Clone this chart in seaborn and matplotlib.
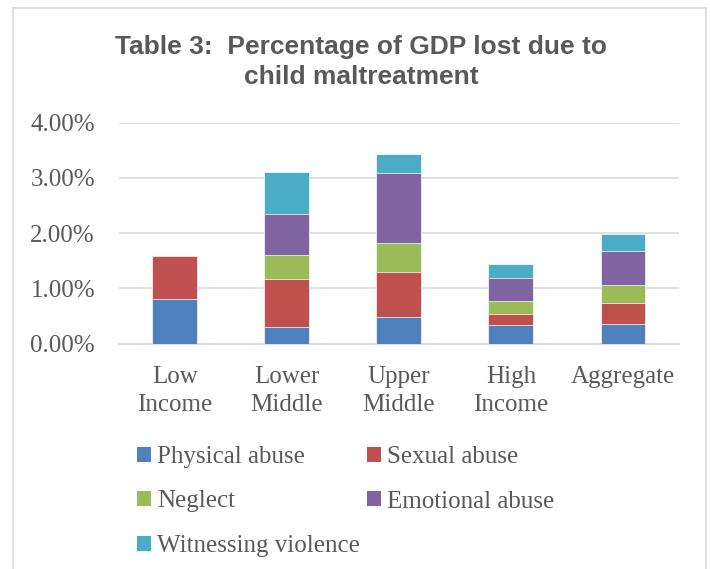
import numpy as np
import pandas as pd
import matplotlib
matplotlib.use("Agg")
import matplotlib.pyplot as plt
import seaborn as sns
from matplotlib.patches import Patch, Rectangle

# Data (percent of GDP)
categories = ["Low\nIncome", "Lower\nMiddle", "Upper\nMiddle", "High\nIncome", "Aggregate"]
series = ["Physical abuse", "Sexual abuse", "Neglect", "Emotional abuse", "Witnessing violence"]
physical = [0.81, 0.30, 0.48, 0.33, 0.36]
sexual = [0.78, 0.87, 0.82, 0.21, 0.38]
neglect = [0.00, 0.44, 0.52, 0.23, 0.32]
emotional = [0.00, 0.74, 1.26, 0.42, 0.62]
witnessing = [0.00, 0.76, 0.36, 0.25, 0.30]
colors = ["#4F81BD", "#C0504D", "#9BBB59", "#8064A2", "#4BACC6"]

sns.set_style("white")
plt.rcParams["font.family"] = ["Liberation Serif", "DejaVu Serif"]

df = pd.DataFrame(dict(zip(series, [physical, sexual, neglect, emotional, witnessing])),
                  index=categories)
cum = df.cumsum(axis=1)

W, H = 710, 569
fig = plt.figure(figsize=(W / 100, H / 100), dpi=100)
ax = fig.add_axes([118.6 / W, 1 - 343.6 / H, 560.4 / W, 221 / H])

# draw cumulative totals from top segment down so each segment shows
for name, col in reversed(list(zip(series, colors))):
    sns.barplot(x=cum.index, y=cum[name].values, color=col, width=0.4,
                saturation=1, ax=ax, edgecolor="white", linewidth=0.5, zorder=3)

ax.set_ylim(0, 4.0)
ax.set_xlim(-0.5, 4.5)
ax.set_yticks([0, 1, 2, 3, 4])
ax.set_yticklabels([f"{v:.2f}%" for v in [0, 1, 2, 3, 4]])
ax.yaxis.grid(True, color="#D9D9D9", linewidth=1.1, zorder=0)
ax.set_axisbelow(True)
for s in ["top", "right", "left"]:
    ax.spines[s].set_visible(False)
ax.spines["bottom"].set_color("#D9D9D9")
ax.spines["bottom"].set_linewidth(1.3)
ax.tick_params(axis="both", length=0, labelsize=18, colors="#595959")
ax.tick_params(axis="y", pad=17)
ax.tick_params(axis="x", pad=16)
for t in ax.get_xticklabels():
    t.set_linespacing(1.38)
ax.set_xlabel("")
ax.set_ylabel("")

fig.text(361 / W, 1 - 62 / H, "Table 3:  Percentage of GDP lost due to\nchild maltreatment",
         ha="center", va="center", fontsize=19, fontweight="bold", color="#595959",
         family=["Liberation Sans", "DejaVu Sans"], linespacing=1.29)

# column-major order so rows read Physical/Sexual, Neglect/Emotional, Witnessing
order = [0, 2, 4, 1, 3]
handles = [Patch(facecolor=colors[i], edgecolor="none") for i in order]
labels = [series[i] for i in order]
leg = fig.legend(handles, labels, ncol=2, loc="upper left",
                 bbox_to_anchor=(137 / W, 1 - 446 / H), frameon=False,
                 fontsize=18, handlelength=0.55, handleheight=0.55, handletextpad=0.25,
                 columnspacing=0.3, labelspacing=0.9, borderaxespad=0, borderpad=0)
for t in leg.get_texts():
    t.set_color("#595959")

# chart frame
fig.patches.append(Rectangle((13 / W, -0.02), 693 / W, 1.02 - 8 / H, transform=fig.transFigure,
                             fill=False, edgecolor="#D9D9D9", linewidth=1.2))

fig.savefig("out.png", dpi=100)
